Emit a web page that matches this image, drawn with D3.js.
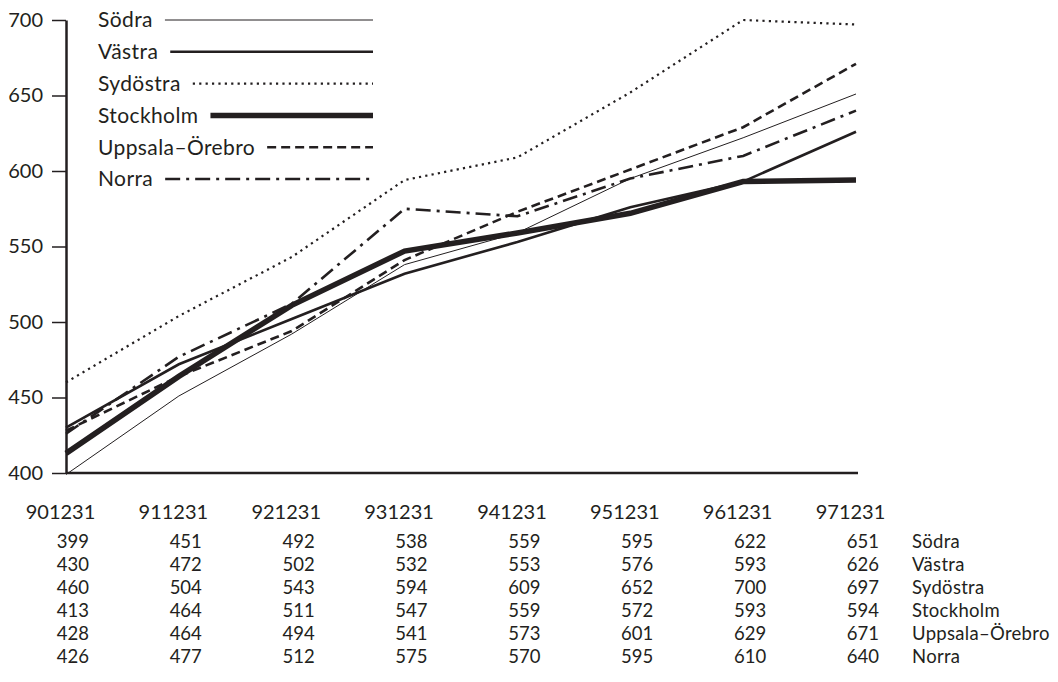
<!DOCTYPE html>
<html>
<head>
<meta charset="utf-8">
<script src="https://cdn.jsdelivr.net/npm/d3@7"></script>
<style>
  html, body { margin: 0; padding: 0; background: #fff; }
  svg { display: block; }
  text { font-family: Lato, "Open Sans", sans-serif; fill: #231f20; }
</style>
</head>
<body>
<svg id="chart" width="1058" height="682"></svg>
<script>
const categories = ["901231", "911231", "921231", "931231", "941231", "951231", "961231", "971231"];
const seriesNames = ["Södra", "Västra", "Sydöstra", "Stockholm", "Uppsala–Örebro", "Norra"];
const sodra      = [399, 451, 492, 538, 559, 595, 622, 651];
const vastra     = [430, 472, 502, 532, 553, 576, 593, 626];
const sydostra   = [460, 504, 543, 594, 609, 652, 700, 697];
const stockholm  = [413, 464, 511, 547, 559, 572, 593, 594];
const uppsala    = [428, 464, 494, 541, 573, 601, 629, 671];
const norra      = [426, 477, 512, 575, 570, 595, 610, 640];
const yTicks = [400, 450, 500, 550, 600, 650, 700];

const seriesValues = [sodra, vastra, sydostra, stockholm, uppsala, norra];
const styles = [
  { w: 1,   dash: null },
  { w: 2.6, dash: null },
  { w: 2.2, dash: "2.2,4.2" },
  { w: 5.5, dash: null },
  { w: 2.6, dash: "9,5" },
  { w: 2.6, dash: "15,6,3,6" }
];
const ink = "#231f20";

const svg = d3.select("#chart");
const x = d3.scalePoint().domain(categories).range([66, 856]);
const y = d3.scaleLinear().domain([400, 700]).range([473, 20]);

// Y axis
const yAxis = svg.append("g")
  .attr("transform", "translate(66,0)")
  .call(d3.axisLeft(y).tickValues(yTicks).tickSize(14).tickSizeOuter(0).tickPadding(9));
yAxis.select(".domain").attr("stroke", ink).attr("stroke-width", 2.5);
yAxis.selectAll(".tick line").attr("stroke", ink).attr("stroke-width", 1.5);
yAxis.selectAll(".tick text").style("font-size", "20px").attr("fill", ink)
  .attr("font-family", "Lato, sans-serif");

// X axis line + category labels
const xAxis = svg.append("g")
  .attr("transform", "translate(0,473)")
  .call(d3.axisBottom(x).tickSize(0).tickSizeOuter(0).tickPadding(32));
xAxis.select(".domain").attr("d", "M66,0H858").attr("stroke", ink).attr("stroke-width", 2.5);
xAxis.selectAll(".tick text").style("font-size", "20px").attr("fill", ink)
  .attr("dx", -6).attr("font-family", "Lato, sans-serif");

// Lines
const line = d3.line()
  .x((d, i) => x(categories[i]))
  .y(d => y(d))
  .curve(d3.curveLinear);

seriesValues.forEach((vals, s) => {
  svg.append("path")
    .datum(vals)
    .attr("d", line)
    .attr("fill", "none")
    .attr("stroke", ink)
    .attr("stroke-width", styles[s].w)
    .attr("stroke-linejoin", "miter")
    .attr("stroke-dasharray", styles[s].dash);
});

// Legend
const legend = svg.append("g");
seriesNames.forEach((name, s) => {
  const ly = 20 + s * 31.8;
  const t = legend.append("text")
    .attr("x", 98).attr("y", ly).attr("dy", "0.35em")
    .style("font-size", "21px")
    .style("letter-spacing", "0.4px")
    .text(name);
  const tw = t.node().getComputedTextLength();
  legend.append("line")
    .attr("x1", 98 + tw + 12).attr("x2", 373)
    .attr("y1", ly).attr("y2", ly)
    .attr("stroke", ink)
    .attr("stroke-width", styles[s].w)
    .attr("stroke-dasharray", styles[s].dash);
});

// Data table
const table = svg.append("g");
seriesValues.forEach((vals, s) => {
  const ry = 542 + s * 22.9;
  vals.forEach((v, i) => {
    table.append("text")
      .attr("x", x(categories[i]) + 23)
      .attr("y", ry).attr("dy", "0.35em")
      .attr("text-anchor", "end")
      .style("font-size", "18.5px")
      .text(v);
  });
  table.append("text")
    .attr("x", 912).attr("y", ry).attr("dy", "0.35em")
    .style("font-size", "18.5px")
    .style("letter-spacing", "0.3px")
    .text(seriesNames[s]);
});
</script>
</body>
</html>
